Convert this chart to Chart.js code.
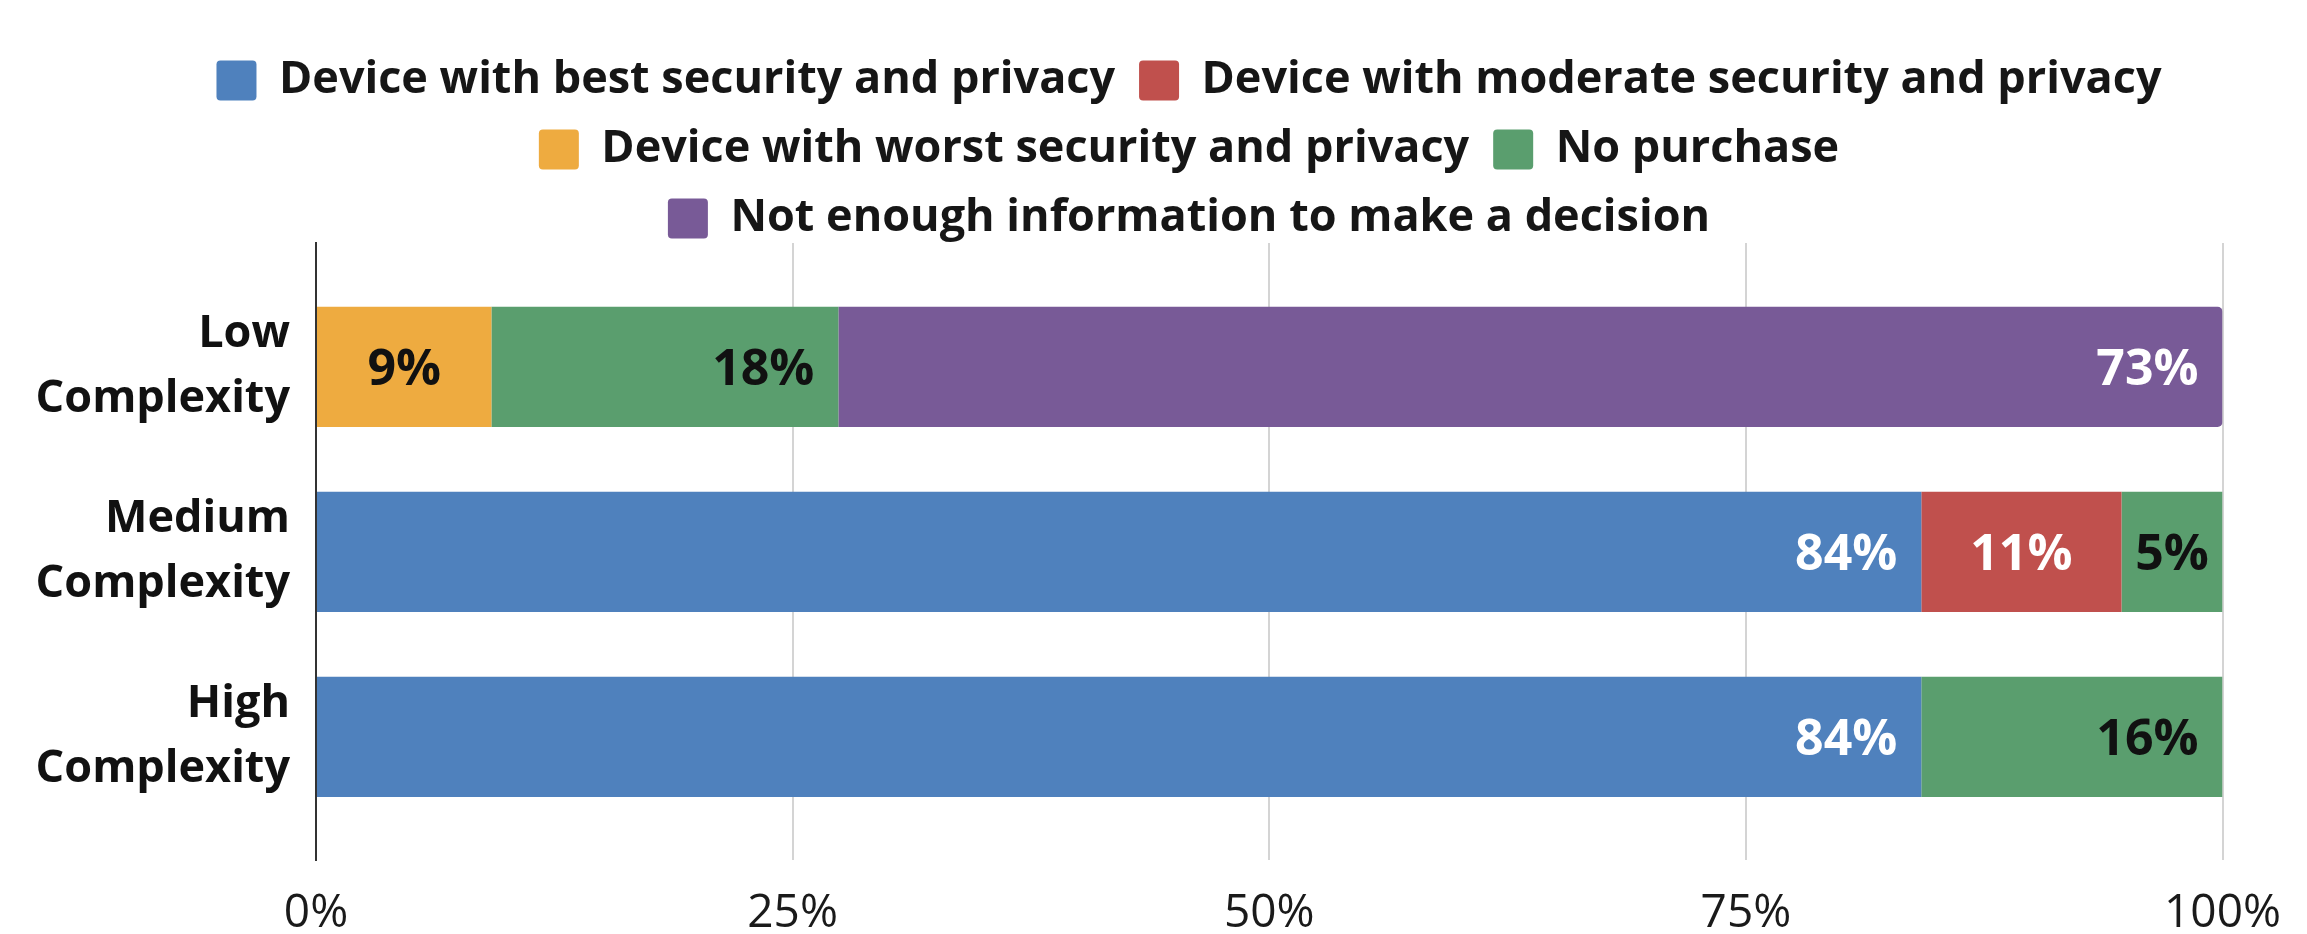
<!DOCTYPE html>
<html>
<head>
<meta charset="utf-8">
<script src="https://cdn.jsdelivr.net/npm/chart.js@4.4.1/dist/chart.umd.min.js"></script>
<style>
html,body{margin:0;padding:0;background:#ffffff;}
canvas{display:block;}
</style>
</head>
<body>
<canvas id="c" width="2307" height="934"></canvas>
<script>
// ---- data ----
const categories = [['Low', 'Complexity'], ['Medium', 'Complexity'], ['High', 'Complexity']];
const seriesNames = [
  'Device with best security and privacy',
  'Device with moderate security and privacy',
  'Device with worst security and privacy',
  'No purchase',
  'Not enough information to make a decision'
];
const bestValues       = [null, 84.2, 84.2];
const moderateValues   = [null, 10.5, null];
const worstValues      = [9.2, null, null];
const noPurchaseValues = [18.2, 5.3, 15.8];
const notEnoughValues  = [72.6, null, null];
const xTickValues = [0, 25, 50, 75, 100];
const xTickLabels = ['0%', '25%', '50%', '75%', '100%'];

// ---- helpers ----
function toPoints(values) {
  const pts = [];
  values.forEach((v, i) => { if (v !== null) pts.push({x: v, y: i}); });
  return pts;
}

const FONT = '"Open Sans", "DejaVu Sans", sans-serif';

const valueLabels = {
  id: 'valueLabels',
  afterDatasetsDraw(chart) {
    const ctx = chart.ctx;
    const size = 50;
    ctx.save();
    ctx.font = 'bold ' + size + 'px ' + FONT;
    chart.data.datasets.forEach((ds, di) => {
      if (!chart.isDatasetVisible(di)) return;
      const meta = chart.getDatasetMeta(di);
      meta.data.forEach((el, i) => {
        const v = ds.data[i].x;
        const p = el.getProps(['x', 'y', 'base'], true);
        let tx;
        if (v >= 15) { ctx.textAlign = 'right'; tx = p.x - 24; }
        else { ctx.textAlign = 'center'; tx = (p.x + p.base) / 2; }
        ctx.textBaseline = 'alphabetic';
        ctx.fillStyle = ds.labelColor;
        ctx.fillText(Math.round(v) + '%', tx, p.y + size * 0.357);
      });
    });
    ctx.restore();
  }
};

// move the legend to where the reference places it
const legendShift = {
  id: 'legendShift',
  afterLayout(chart) {
    const lg = chart.legend;
    if (lg) { lg.left += 66; lg.right += 66; lg.top += 8; lg.bottom += 8; }
  }
};

const colors = ['#4F81BD', '#C0504D', '#EEAB40', '#5A9E6E', '#785A97'];
const labelColors = ['#ffffff', '#ffffff', '#111111', '#111111', '#ffffff'];
const seriesValues = [bestValues, moderateValues, worstValues, noPurchaseValues, notEnoughValues];

const datasets = seriesNames.map((name, k) => ({
  label: name,
  data: toPoints(seriesValues[k]),
  backgroundColor: colors[k],
  borderWidth: 0,
  borderRadius: k === 4 ? 5 : 0,
  labelColor: labelColors[k],
  barPercentage: 0.65,
  categoryPercentage: 1.0
}));

new Chart(document.getElementById('c'), {
  type: 'bar',
  data: { datasets },
  plugins: [valueLabels, legendShift],
  options: {
    indexAxis: 'y',
    responsive: false,
    devicePixelRatio: 1,
    animation: false,
    layout: { padding: { left: 20, right: 81, top: 26, bottom: 0 } },
    plugins: {
      legend: {
        position: 'top',
        align: 'center',
        labels: {
          font: { family: FONT, size: 45, weight: 'bold' },
          color: '#161616',
          boxWidth: 40,
          boxHeight: 40,
          padding: 24,
          useBorderRadius: true,
          borderRadius: 4
        }
      },
      tooltip: { enabled: false }
    },
    scales: {
      x: {
        type: 'linear',
        position: 'bottom',
        min: 0,
        max: 100,
        stacked: true,
        grid: {
          drawTicks: false,
          lineWidth: 2,
          color: (c) => (c.tick && c.tick.value === 0) ? '#333333' : '#d4d4d4'
        },
        border: { display: false },
        ticks: {
          stepSize: 25,
          padding: 26,
          font: { family: FONT, size: 46 },
          color: '#1a1a1a',
          callback: (v) => xTickLabels[xTickValues.indexOf(v)]
        },
        afterFit(scale) { scale.height = 74; }
      },
      y: {
        type: 'linear',
        reverse: true,
        offset: false,
        min: -0.670,
        max: 2.665,
        stacked: true,
        grid: { display: false, drawTicks: false, offset: false },
        border: { display: true, color: '#333333', width: 2 },
        ticks: {
          stepSize: 1,
          includeBounds: false,
          autoSkip: false,
          padding: 26,
          font: { family: FONT, size: 45, weight: 'bold', lineHeight: 1.45 },
          color: '#111111',
          callback: (v) => Number.isInteger(v) && categories[v] ? categories[v] : ''
        },
        afterFit(scale) { scale.width = 296; scale.paddingTop = 0; scale.paddingBottom = 0; }
      }
    }
  }
});
</script>
</body>
</html>
